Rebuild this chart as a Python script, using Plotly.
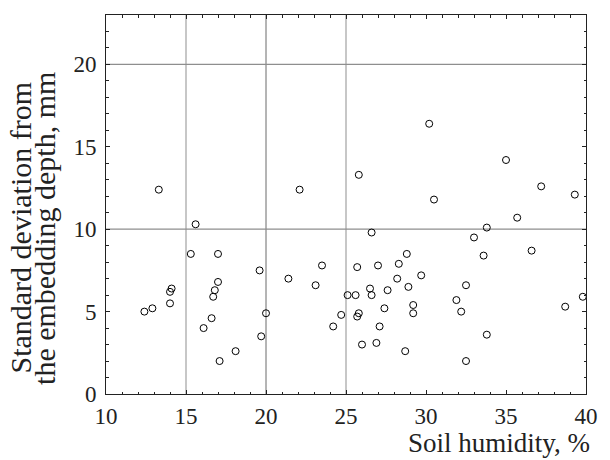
import plotly.graph_objects as go

# Soil humidity (%) and standard deviation from embedding depth (mm)
humidity = [13.3, 22.1, 15.6, 15.3, 17.0, 19.6, 23.5, 30.2, 25.8, 35.0,
            37.2, 39.3, 30.5, 35.7, 33.8, 26.6, 33.0, 33.6, 36.6, 28.8,
            28.3, 27.0, 25.7, 12.4, 12.9, 14.0, 14.0, 14.1, 16.1, 16.6,
            16.7, 16.8, 17.0, 17.1, 18.1, 19.7, 20.0, 21.4, 23.1, 24.2,
            24.7, 25.1, 29.7, 28.2, 32.5, 26.5, 28.9, 27.6, 25.6, 26.6,
            31.9, 29.2, 27.4, 25.8, 25.7, 29.2, 32.2, 27.1, 33.8, 38.7,
            39.8, 26.0, 26.9, 28.7, 32.5]
deviation = [12.4, 12.4, 10.3, 8.5, 8.5, 7.5, 7.8, 16.4, 13.3, 14.2,
             12.6, 12.1, 11.8, 10.7, 10.1, 9.8, 9.5, 8.4, 8.7, 8.5,
             7.9, 7.8, 7.7, 5.0, 5.2, 5.5, 6.2, 6.4, 4.0, 4.6,
             5.9, 6.3, 6.8, 2.0, 2.6, 3.5, 4.9, 7.0, 6.6, 4.1,
             4.8, 6.0, 7.2, 7.0, 6.6, 6.4, 6.5, 6.3, 6.0, 6.0,
             5.7, 5.4, 5.2, 4.9, 4.7, 4.9, 5.0, 4.1, 3.6, 5.3,
             5.9, 3.0, 3.1, 2.6, 2.0]

x_ticks = [10, 15, 20, 25, 30, 35, 40]
y_ticks = [0, 5, 10, 15, 20]
x_grid = [15, 20, 25]
x_grid_colors = ["#b4b4b4", "#6a6a6a", "#b4b4b4"]
x_grid_widths = [1.5, 1, 1.5]
y_grid = [10, 20]

FONT = "Times New Roman, Liberation Serif, Tinos, Times, serif"
INK = "#222222"

fig = go.Figure()
fig.add_trace(go.Scatter(
    x=humidity, y=deviation, mode="markers",
    marker=dict(symbol="circle-open", size=7, color="black", line=dict(width=1, color="black")),
    showlegend=False, hoverinfo="x+y",
))

shapes = []
for v, c, w in zip(x_grid, x_grid_colors, x_grid_widths):
    shapes.append(dict(type="line", xref="x", yref="paper", x0=v, x1=v, y0=0, y1=1,
                       line=dict(color=c, width=w), layer="below"))
for v in y_grid:
    shapes.append(dict(type="line", xref="paper", yref="y", x0=0, x1=1, y0=v, y1=v,
                       line=dict(color="#8e8e8e", width=1.3), layer="below"))

axis_common = dict(
    ticks="inside", ticklen=4, tickcolor=INK, tickwidth=1,
    showgrid=False, zeroline=False, showline=True, linecolor=INK, linewidth=1,
    mirror="ticks",
    tickfont=dict(family=FONT, size=23, color=INK),
)

fig.update_layout(
    width=610, height=460,
    margin=dict(l=106, r=14, t=15, b=66),
    paper_bgcolor="white", plot_bgcolor="white",
    xaxis=dict(range=[10, 40], tickvals=x_ticks, ticklabelstandoff=1,
               minor=dict(dtick=1, tick0=10, ticks="inside", ticklen=2.5, tickcolor=INK),
               **axis_common),
    yaxis=dict(range=[0, 23], tickvals=y_ticks, ticklabelstandoff=4,
               minor=dict(dtick=1, tick0=0, ticks="inside", ticklen=2.5, tickcolor=INK),
               **axis_common),
    shapes=shapes,
    annotations=[
        dict(text="Soil humidity, %", xref="paper", yref="paper", x=1.012, y=-0.128,
             xanchor="right", yanchor="middle", showarrow=False,
             font=dict(family=FONT, size=27, color=INK)),
        dict(text="Standard deviation from", xref="paper", yref="paper", x=-0.178, y=0.438,
             xanchor="center", yanchor="middle", textangle=-90, showarrow=False,
             font=dict(family=FONT, size=30, color=INK)),
        dict(text="the embedding depth, mm", xref="paper", yref="paper", x=-0.128, y=0.437,
             xanchor="center", yanchor="middle", textangle=-90, showarrow=False,
             font=dict(family=FONT, size=30, color=INK)),
    ],
)

fig.write_html("out.html")
